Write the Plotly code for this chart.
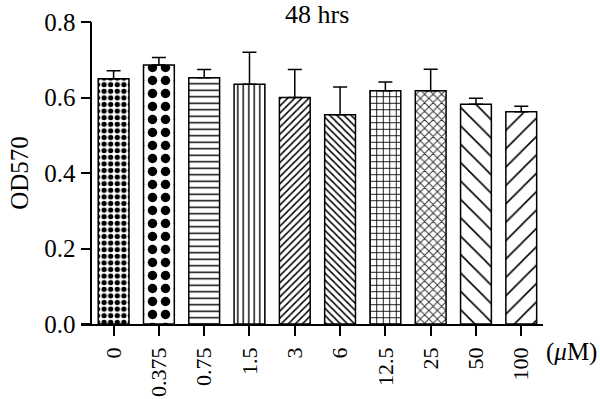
import plotly.graph_objects as go

categories = ["0", "0.375", "0.75", "1.5", "3", "6", "12.5", "25", "50", "100"]
means = [0.650, 0.686, 0.652, 0.635, 0.600, 0.554, 0.618, 0.618, 0.582, 0.562]
sds = [0.021, 0.020, 0.022, 0.085, 0.074, 0.074, 0.023, 0.057, 0.016, 0.015]
y_ticks = [0.0, 0.2, 0.4, 0.6, 0.8]

shapes = [".", ".", "-", "|", "/", "\\", "+", "x", "\\", "/"]
sizes = [6.6, 13, 6.5, 5.5, 5, 5, 6.5, 6, 13, 13]
solid = [0.5, 0.42, 0.22, 0.25, 0.3, 0.3, 0.25, 0.3, 0.12, 0.12]
fgcols = ["black"] * 7 + ["#333333"] + ["black"] * 2

FONT = "Liberation Serif"
FS = 25

fig = go.Figure()
fig.add_trace(go.Bar(
    x=categories,
    y=means,
    width=0.68,
    marker=dict(
        color="white",
        line=dict(color="black", width=1.5),
        pattern=dict(shape=shapes, size=sizes, solidity=solid,
                     fgcolor=fgcols, bgcolor="white", fillmode="replace"),
    ),
    error_y=dict(type="data", symmetric=False, array=sds,
                 arrayminus=[0] * len(sds), color="black",
                 thickness=1.5, width=7),
    showlegend=False,
))

fig.add_annotation(text="48 hrs", x=4.5, xref="x", y=1.024, yref="paper",
                   xanchor="center", yanchor="middle", showarrow=False,
                   font=dict(family=FONT, size=26, color="black"))
fig.add_annotation(text="(<i>μ</i>M)", x=1.003, xref="paper", y=-0.093,
                   yref="paper", xanchor="left", yanchor="middle",
                   showarrow=False,
                   font=dict(family=FONT, size=FS, color="black"))

fig.update_layout(
    width=600, height=399,
    margin=dict(l=81, r=57, t=22, b=75, autoexpand=False),
    plot_bgcolor="white", paper_bgcolor="white",
    font=dict(family=FONT, size=FS, color="black"),
    bargap=0.3,
    xaxis=dict(
        type="category", range=[-0.72, 9.48], automargin=False,
        showline=True, linecolor="black", linewidth=1.5,
        ticks="outside", ticklen=10, tickwidth=1.5, tickcolor="black",
        tickangle=-90, showgrid=False, zeroline=False,
        tickfont=dict(family=FONT, size=22, color="black"),
        ticklabelstandoff=3,
    ),
    yaxis=dict(
        range=[0, 0.8], tickvals=y_ticks, tickformat=".1f", automargin=False,
        anchor="free", position=0.0223,
        showline=True, linecolor="black", linewidth=1.5,
        ticks="outside", ticklen=10, tickwidth=1.5, tickcolor="black",
        showgrid=False, zeroline=False,
        tickfont=dict(family=FONT, size=FS, color="black"),
        title=dict(text="OD570", font=dict(family=FONT, size=FS, color="black"),
                   standoff=8),
    ),
)

fig.write_html("out.html", config={"displayModeBar": False},
               post_script="document.body.style.margin='0';document.body.style.overflow='hidden';")
